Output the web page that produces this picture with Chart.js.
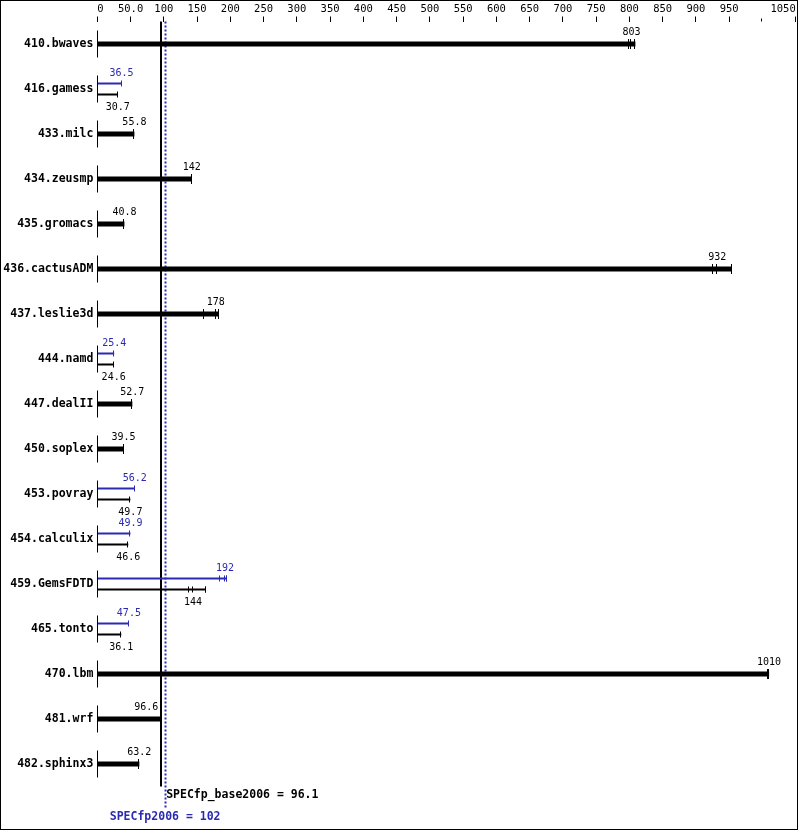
<!DOCTYPE html>
<html>
<head>
<meta charset="utf-8">
<script src="https://cdn.jsdelivr.net/npm/chart.js@4.4.0/dist/chart.umd.min.js"></script>
<style>
  body { margin: 0; background: #fff; }
  canvas { display: block; }
</style>
</head>
<body>
<canvas id="specChart" width="799" height="831"></canvas>
<script>
const benchmarks = ['410.bwaves', '416.gamess', '433.milc', '434.zeusmp', '435.gromacs', '436.cactusADM',
    '437.leslie3d', '444.namd', '447.dealII', '450.soplex', '453.povray', '454.calculix',
    '459.GemsFDTD', '465.tonto', '470.lbm', '481.wrf', '482.sphinx3'];

// peak and base differ -> two thin bars, otherwise one thick bar
const peakVals   = [null, 36.5, null, null, null, null, null, 25.4, null, null, 56.2, 49.9, 192, 47.5, null, null, null];
const baseVals   = [null, 30.7, null, null, null, null, null, 24.6, null, null, 49.7, 46.6, 144, 36.1, null, null, null];
const singleVals = [803, null, 55.8, 142, 40.8, 932, 178, null, 52.7, 39.5, null, null, null, null, 1010, 96.6, 63.2];

// individual run results (tick marks on the bars)
const singleRuns = [[799, 803, 809], null, null, null, null, [926, 932, 954], [161, 178, 183], null, null, null,
    null, null, null, null, [1008, 1010], null, null];
const peakRuns = [null, null, null, null, null, null, null, null, null, null, null, null, [185, 192, 195], null, null, null, null];
const baseRuns = [null, null, null, null, null, null, null, null, null, null, null, null, [138, 144, 163], null, null, null, null];

const tickLabels = ['0', '50.0', '100', '150', '200', '250', '300', '350', '400', '450', '500', '550',
    '600', '650', '700', '750', '800', '850', '900', '950', '', '1050'];
const shortTicks = [1000];

const baseScore = 96.1;
const peakScore = 102;
const baseText = 'SPECfp_base2006 = 96.1';
const peakText = 'SPECfp2006 = 102';

const BLUE = '#2a2ab2';
const MONO = "'DejaVu Sans Mono', monospace";

function barEnds(vals, runs) {
    return vals.map((v, i) => v == null ? null : Math.max(v, ...(runs[i] || [])));
}

const specPlugin = {
    id: 'spec',
    beforeDatasetsDraw(chart) {
        const c = chart.ctx;
        const x = chart.scales.x;
        const area = chart.chartArea;
        const bx = Math.round(x.getPixelForValue(baseScore));
        const px = Math.round(x.getPixelForValue(peakScore)) + 0.5;
        c.save();
        c.fillStyle = '#000';
        c.fillRect(bx - 1, area.top, 2, area.bottom - area.top);
        c.strokeStyle = BLUE;
        c.lineWidth = 2;
        c.setLineDash([2, 2]);
        c.beginPath();
        c.moveTo(px, area.top);
        c.lineTo(px, area.bottom + 22);
        c.stroke();
        c.restore();
    },
    afterDatasetsDraw(chart) {
        const c = chart.ctx;
        const x = chart.scales.x;
        const y = chart.scales.y;
        const area = chart.chartArea;
        const x0 = Math.round(x.getPixelForValue(0)) + 0.5;
        const lineX = x.getPixelForValue(baseScore);
        c.save();
        c.lineWidth = 1;
        c.strokeStyle = '#000';
        // start lines
        benchmarks.forEach((b, i) => {
            const cy = y.getPixelForValue(i);
            c.beginPath();
            c.moveTo(x0, cy - 13.5);
            c.lineTo(x0, cy + 13.5);
            c.stroke();
        });

        const sets = [
            { d: 0, vals: peakVals, runs: peakRuns, color: BLUE, cap: 3, dy: -10 },
            { d: 1, vals: baseVals, runs: baseRuns, color: '#000', cap: 3, dy: 13 },
            { d: 2, vals: singleVals, runs: singleRuns, color: '#000', cap: 5, dy: -12 }
        ];
        c.font = '10px ' + MONO;
        c.textAlign = 'center';
        c.textBaseline = 'middle';
        sets.forEach(s => {
            const meta = chart.getDatasetMeta(s.d);
            s.vals.forEach((v, i) => {
                if (v == null) return;
                const bar = meta.data[i];
                const cy = bar.y;
                c.strokeStyle = s.color;
                const marks = [bar.x].concat((s.runs[i] || []).map(r => x.getPixelForValue(r)));
                marks.forEach(mx => {
                    const tx = Math.round(mx) - 0.5;
                    c.beginPath();
                    c.moveTo(tx, cy - s.cap);
                    c.lineTo(tx, cy + s.cap);
                    c.stroke();
                });
                const label = String(v);
                const w = c.measureText(label).width;
                let lx = x.getPixelForValue(v);
                if (Math.abs(lx - lineX) < w / 2 + 1) lx = lineX - 3 - w / 2;
                c.fillStyle = s.color;
                c.fillText(label, lx, cy + s.dy);
            });
        });

        // short tick for the unlabeled 1000 mark
        shortTicks.forEach(v => {
            const tx = Math.round(x.getPixelForValue(v)) - 0.5;
            c.beginPath();
            c.moveTo(tx, area.top - 3);
            c.lineTo(tx, area.top);
            c.stroke();
        });

        // summary texts
        c.font = 'bold 11.5px ' + MONO;
        c.fillStyle = '#000';
        c.textAlign = 'left';
        const px = x.getPixelForValue(peakScore);
        c.fillText(baseText, px + 1, area.bottom + 8.5);
        c.fillStyle = BLUE;
        c.textAlign = 'center';
        c.fillText(peakText, px, area.bottom + 30.5);

        // frame
        c.strokeStyle = '#000';
        c.strokeRect(0.5, 0.5, 797, 829);
        c.restore();
    }
};

const ctx = document.getElementById('specChart').getContext('2d');
const specChart = new Chart(ctx, {
    type: 'bar',
    data: {
        labels: benchmarks,
        datasets: [
            { label: 'peak', data: barEnds(peakVals, peakRuns), backgroundColor: BLUE, barPercentage: 0.18, skipNull: true },
            { label: 'base', data: barEnds(baseVals, baseRuns), backgroundColor: '#000', barPercentage: 0.18, skipNull: true },
            { label: 'result', data: barEnds(singleVals, singleRuns), backgroundColor: '#000', barPercentage: 0.227, skipNull: true }
        ]
    },
    options: {
        indexAxis: 'y',
        responsive: false,
        animation: false,
        devicePixelRatio: 1,
        categoryPercentage: 0.489,
        layout: { padding: { left: 0, right: 3.3, top: 0, bottom: 44.5 } },
        plugins: { legend: { display: false }, tooltip: { enabled: false } },
        scales: {
            x: {
                position: 'top',
                min: 0,
                max: 1050,
                afterFit: scale => { scale.height = 21.5; },
                border: { display: false },
                grid: {
                    drawOnChartArea: false,
                    drawTicks: true,
                    tickLength: 5,
                    tickColor: t => shortTicks.includes(t.tick && t.tick.value) ? 'rgba(0,0,0,0)' : '#000'
                },
                ticks: {
                    stepSize: 50,
                    autoSkip: false,
                    maxRotation: 0,
                    align: 'inner',
                    padding: 1,
                    color: '#000',
                    font: { family: MONO, size: 10.5 },
                    callback: (v, i) => tickLabels[i]
                }
            },
            y: {
                afterFit: scale => { scale.width = 97.3; },
                border: { display: false },
                grid: { display: false, drawTicks: false, tickLength: 0 },
                ticks: {
                    padding: 4,
                    color: '#000',
                    font: { family: MONO, size: 11.5, weight: 'bold' }
                }
            }
        }
    },
    plugins: [specPlugin]
});
</script>
</body>
</html>
